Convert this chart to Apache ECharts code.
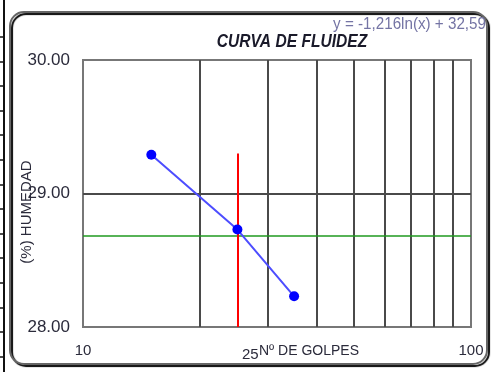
<!DOCTYPE html>
<html>
<head>
<meta charset="utf-8">
<script src="https://cdn.jsdelivr.net/npm/echarts@6/dist/echarts.min.js"></script>
<style>
  html, body { margin: 0; padding: 0; background: #fff; }
  #main { width: 492px; height: 372px; }
</style>
</head>
<body>
<div id="main"></div>
<script>
// datos de la curva de fluidez
var golpes = [15, 25, 35];
var humedad = [29.29, 28.73, 28.23];
// lineas verticales del eje logaritmico
var divisionesX = [20, 30, 40, 50, 60, 70, 80, 90];
var lineaY = [29];
// humedad a 25 golpes
var golpesRef = 25;
var humedadRef = 28.68;
var topeRojo = 29.3;
var ecuacion = 'y = -1,216ln(x) + 32,59';

var textColor = '#2b2b3b';
var puntos = golpes.map(function (g, i) {
  return [g, humedad[i]];
});

// marcas de la regla a la izquierda
var reglaTicks = [];
for (var t = 37; t < 372; t += 24.6) {
  reglaTicks.push({
    type: 'line',
    shape: {x1: 0, y1: Math.round(t), x2: 4, y2: Math.round(t)},
    style: {stroke: '#111', lineWidth: 1.5}
  });
}

var myChart = echarts.init(document.getElementById('main'));
var option = {
  animation: false,
  grid: {
    left: 83,
    top: 60,
    right: 21,
    bottom: 45,
    show: true,
    borderColor: '#777',
    borderWidth: 2,
    backgroundColor: '#fff'
  },
  xAxis: {
    type: 'log',
    logBase: 10,
    min: 10,
    max: 100,
    axisLine: {show: false},
    axisTick: {show: false},
    splitLine: {show: false},
    axisLabel: {
      margin: 16,
      color: textColor,
      fontFamily: 'Liberation Sans',
      fontSize: 15
    }
  },
  yAxis: {
    type: 'value',
    min: 28,
    max: 30,
    interval: 1,
    axisLine: {show: false},
    axisTick: {show: false},
    splitLine: {show: false},
    axisLabel: {
      margin: 13,
      color: textColor,
      fontFamily: 'Liberation Sans',
      fontSize: 17,
      formatter: function (v) {
        return v.toFixed(2);
      }
    }
  },
  series: [
    {
      name: 'rejilla',
      type: 'line',
      data: [],
      silent: true,
      markLine: {
        silent: true,
        symbol: 'none',
        label: {show: false},
        lineStyle: {color: '#4a4a4a', width: 2, type: 'solid'},
        data: divisionesX.map(function (v) {
          return {xAxis: v};
        }).concat(lineaY.map(function (v) {
          return {yAxis: v};
        }))
      }
    },
    {
      name: 'referencia',
      type: 'line',
      data: [],
      silent: true,
      markLine: {
        silent: true,
        symbol: 'none',
        label: {show: false},
        data: [
          {yAxis: humedadRef, lineStyle: {color: '#1f9a1f', width: 1.5, type: 'solid'}},
          [
            {coord: [golpesRef, 28], lineStyle: {color: '#ff0000', width: 2, type: 'solid'}},
            {coord: [golpesRef, topeRojo]}
          ]
        ]
      }
    },
    {
      name: 'humedad',
      type: 'line',
      data: puntos,
      symbol: 'circle',
      symbolSize: 10,
      lineStyle: {color: '#4d4dff', width: 2},
      itemStyle: {color: '#0000ff'},
      z: 5
    }
  ],
  graphic: [
    {
      type: 'rect',
      shape: {x: 10, y: 12, width: 477, height: 352, r: 14},
      style: {
        fill: null,
        stroke: '#666',
        lineWidth: 2,
        shadowColor: '#000',
        shadowOffsetX: 2,
        shadowOffsetY: 2,
        shadowBlur: 1
      },
      z: 100
    },
    {
      type: 'line',
      shape: {x1: 4, y1: 0, x2: 4, y2: 372},
      style: {stroke: '#111', lineWidth: 2},
      z: 100
    }
  ].concat(reglaTicks).concat([
    {
      type: 'text',
      x: 292,
      y: 42,
      scaleX: 0.82,
      style: {
        text: 'CURVA DE FLUIDEZ',
        fontFamily: 'Liberation Sans',
        fontWeight: 'bold',
        fontStyle: 'italic',
        fontSize: 19,
        fill: '#1a1a2a',
        align: 'center',
        verticalAlign: 'middle'
      },
      z: 100
    },
    {
      type: 'text',
      x: 486,
      y: 25,
      scaleX: 0.95,
      style: {
        text: ecuacion,
        fontFamily: 'Liberation Sans',
        fontSize: 16,
        fill: '#7474a4',
        align: 'right',
        verticalAlign: 'middle'
      },
      z: 101
    },
    {
      type: 'text',
      x: 27,
      y: 212,
      rotation: Math.PI / 2,
      style: {
        text: '(%) HUMEDAD',
        fontFamily: 'Liberation Sans',
        fontSize: 15,
        fill: textColor,
        align: 'center',
        verticalAlign: 'middle'
      },
      z: 100
    },
    {
      type: 'text',
      x: 242,
      y: 355,
      style: {
        text: String(golpesRef),
        fontFamily: 'Liberation Sans',
        fontSize: 15,
        fill: textColor,
        align: 'left',
        verticalAlign: 'middle'
      },
      z: 100
    },
    {
      type: 'text',
      x: 259,
      y: 351,
      style: {
        text: 'Nº DE GOLPES',
        fontFamily: 'Liberation Sans',
        fontSize: 14,
        fill: textColor,
        align: 'left',
        verticalAlign: 'middle'
      },
      z: 100
    }
  ])
};
myChart.setOption(option);
</script>
</body>
</html>
